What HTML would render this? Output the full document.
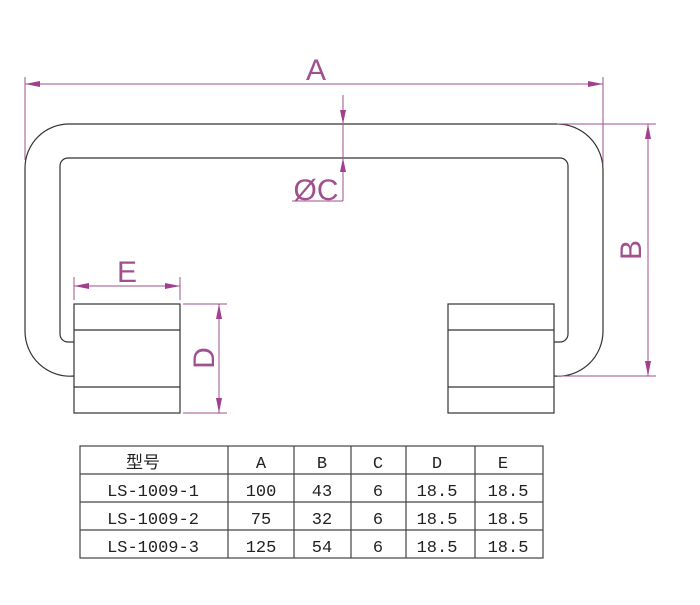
<!DOCTYPE html>
<html><head><meta charset="utf-8"><style>body{margin:0;background:#fff}</style></head><body>
<svg width="700" height="600" viewBox="0 0 700 600" xmlns="http://www.w3.org/2000/svg">
<rect width="700" height="600" fill="#fff"/>
<g fill="none" stroke="#333" stroke-width="1.2">
<path d="M74,376 A45,45 0 0 1 25,331 L25,168 A44,44 0 0 1 70,124 L557,124 A46,46 0 0 1 603,170 L603,331 A45,45 0 0 1 554,376"/>
<path d="M74,342 L68,342 A8,8 0 0 1 60,334 L60,166 A8,8 0 0 1 68,158 L560,158 A8,8 0 0 1 568,166 L568,334 A8,8 0 0 1 560,342 L554,342"/>
<rect x="74" y="304" width="106" height="109" fill="#fff"/>
<line x1="74" y1="330" x2="180" y2="330"/><line x1="74" y1="387" x2="180" y2="387"/>
<rect x="448" y="304" width="106" height="109" fill="#fff"/>
<line x1="448" y1="330" x2="554" y2="330"/><line x1="448" y1="387" x2="554" y2="387"/>
</g>
<g stroke="#a0508f" stroke-width="1" fill="none">
<line x1="25" y1="77" x2="25" y2="160"/><line x1="603" y1="77" x2="603" y2="165"/>
<line x1="25" y1="84" x2="603" y2="84"/>
<line x1="343" y1="95" x2="343" y2="201"/><line x1="292" y1="201" x2="343" y2="201"/>
<line x1="557" y1="124" x2="656" y2="124"/><line x1="557" y1="376" x2="656" y2="376"/>
<line x1="648" y1="124" x2="648" y2="376"/>
<line x1="74" y1="277" x2="74" y2="300"/><line x1="180" y1="277" x2="180" y2="300"/>
<line x1="74" y1="286" x2="180" y2="286"/>
<line x1="183" y1="304" x2="227" y2="304"/><line x1="183" y1="413" x2="227" y2="413"/>
<line x1="219" y1="304" x2="219" y2="413"/>
</g>
<g fill="#a0408f">
<polygon points="25,84 40,81 40,87"/><polygon points="603,84 588,81 588,87"/>
<polygon points="343,124 340,110 346,110"/><polygon points="343,158 340,172 346,172"/>
<polygon points="648,124 645,139 651,139"/><polygon points="648,376 645,361 651,361"/>
<polygon points="74,286 89,283 89,289"/><polygon points="180,286 165,283 165,289"/>
<polygon points="219,304 216,319 222,319"/><polygon points="219,413 216,398 222,398"/>
</g>
<g fill="#a0508f" font-family="Liberation Sans, sans-serif" font-size="30">
<text x="316" y="80" text-anchor="middle">A</text>
<text x="316" y="200" text-anchor="middle">ØC</text>
<text x="127" y="282" text-anchor="middle">E</text>
<text transform="translate(641,250) rotate(-90)" text-anchor="middle">B</text>
<text transform="translate(214,358) rotate(-90)" text-anchor="middle">D</text>
</g>
<g stroke="#444" stroke-width="1.2" fill="none">
<rect x="80" y="446" width="463" height="112"/>
<line x1="80" y1="474" x2="543" y2="474"/><line x1="80" y1="502" x2="543" y2="502"/><line x1="80" y1="530" x2="543" y2="530"/>
<line x1="228" y1="446" x2="228" y2="558"/><line x1="294" y1="446" x2="294" y2="558"/><line x1="351" y1="446" x2="351" y2="558"/><line x1="406" y1="446" x2="406" y2="558"/><line x1="475" y1="446" x2="475" y2="558"/>
</g>
<g fill="#222" font-family="Liberation Mono, 'Noto Sans CJK SC', monospace" font-size="17" text-anchor="middle">
<text x="143" y="468">型号</text><text x="261" y="468">A</text><text x="322" y="468">B</text><text x="378" y="468">C</text><text x="437" y="468">D</text><text x="503" y="468">E</text>
<text x="153" y="496">LS-1009-1</text><text x="261" y="496">100</text><text x="322" y="496">43</text><text x="378" y="496">6</text><text x="437" y="496">18.5</text><text x="508" y="496">18.5</text>
<text x="153" y="524">LS-1009-2</text><text x="261" y="524">75</text><text x="322" y="524">32</text><text x="378" y="524">6</text><text x="437" y="524">18.5</text><text x="508" y="524">18.5</text>
<text x="153" y="552">LS-1009-3</text><text x="261" y="552">125</text><text x="322" y="552">54</text><text x="378" y="552">6</text><text x="437" y="552">18.5</text><text x="508" y="552">18.5</text>
</g>
</svg>
</body></html>
